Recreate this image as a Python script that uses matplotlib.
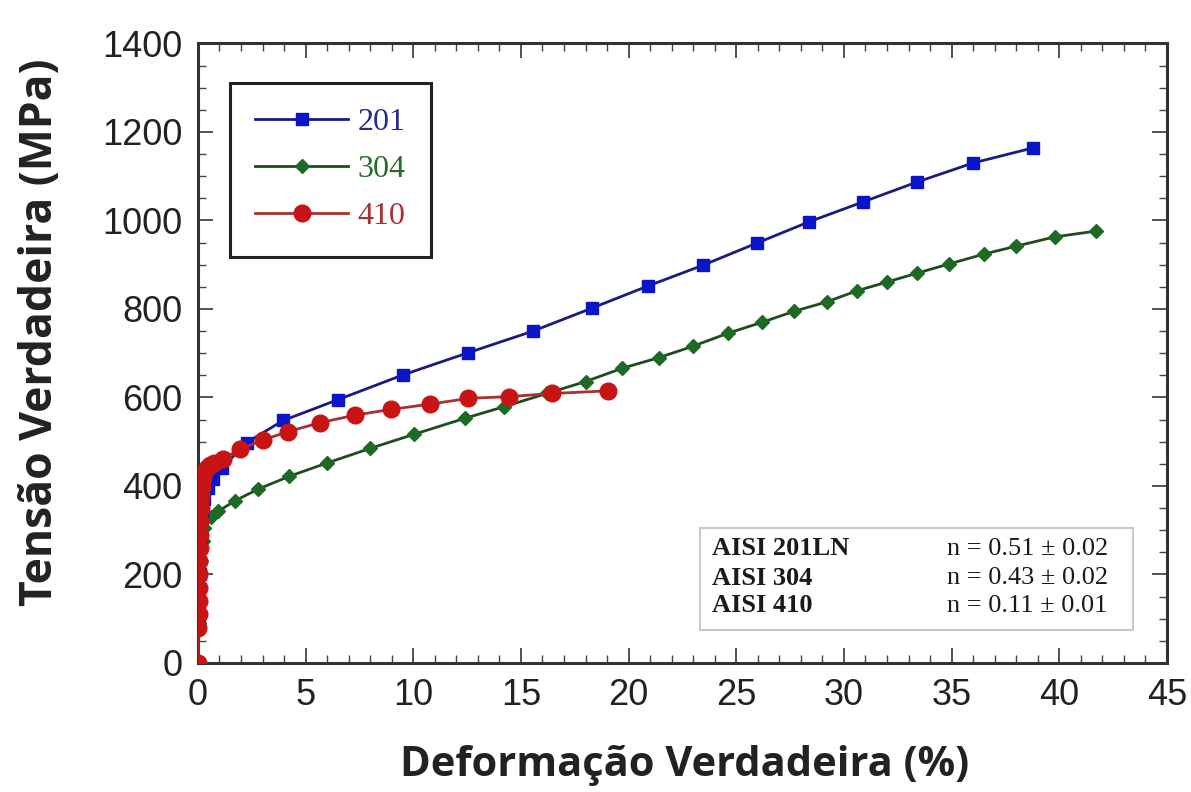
import matplotlib
matplotlib.use("Agg")
import matplotlib.pyplot as plt
from matplotlib.ticker import MultipleLocator

# dados (deformação verdadeira %, tensão verdadeira MPa)
strain_201 = [0, 0.05, 0.1, 0.15, 0.2, 0.3, 0.45, 0.7, 1.1, 2.26, 3.96, 6.5,
              9.52, 12.54, 15.56, 18.3, 20.9, 23.46, 25.96, 28.38, 30.89, 33.4, 36.0, 38.78]
stress_201 = [0, 100, 200, 280, 330, 370, 395, 415, 440, 498, 548, 595,
              651, 701, 750, 802, 852, 899, 949, 997, 1042, 1087, 1130, 1164]

strain_304 = [0, 0.05, 0.1, 0.15, 0.22, 0.3, 0.6, 0.95, 1.7, 2.8, 4.25, 6.0, 8.0, 10.05,
              12.4, 14.2, 16.2, 18.0, 19.7, 21.4, 23.0, 24.6, 26.2, 27.7,
              29.2, 30.6, 32.0, 33.4, 34.9, 36.5, 38.0, 39.8, 41.7]
stress_304 = [0, 90, 170, 230, 275, 305, 331, 343, 366, 393, 422, 452, 485, 517,
              553, 579, 609, 636, 666, 690, 716, 745, 770, 795,
              816, 841, 861, 881, 902, 924, 942, 963, 976]

strain_410 = [0, 0.02, 0.03, 0.04, 0.05, 0.06, 0.07, 0.08, 0.09, 0.1, 0.12, 0.14,
              0.17, 0.2, 0.25, 0.3, 0.4, 0.55, 0.75, 1.18, 1.95, 3.03, 4.19, 5.67,
              7.29, 8.95, 10.78, 12.56, 14.46, 16.43, 19.06]
stress_410 = [0, 78, 110, 140, 170, 200, 230, 260, 290, 320, 350, 375,
              398, 412, 422, 432, 440, 447, 452, 462, 483, 504, 523, 543,
              560, 573, 585, 598, 602, 609, 615]

series_labels = ["201", "304", "410"]
n_materials = ["AISI 201LN", "AISI 304", "AISI 410"]
n_values = ["n = 0.51 ± 0.02", "n = 0.43 ± 0.02", "n = 0.11 ± 0.01"]

fig = plt.figure(figsize=(11.91, 7.92), dpi=100)
ax = fig.add_axes([0.1662, 0.1629, 0.8136, 0.7822])

ax.plot(strain_201, stress_201, color='#1a1a80', lw=2, marker='s', ms=8,
        mfc='#0a14c8', mec='#0a14c8', label=series_labels[0], zorder=3)
ax.plot(strain_304, stress_304, color='#1d4d1d', lw=2, marker='D', ms=7.5,
        mfc='#1e6a24', mec='#1e6a24', label=series_labels[1], zorder=2)
ax.plot(strain_410, stress_410, color='#a83030', lw=2, marker='o', ms=12,
        mfc='#c81414', mec='#c81414', label=series_labels[2], zorder=4)

ax.set_xlim(0, 45)
ax.set_ylim(0, 1400)
ax.xaxis.set_major_locator(MultipleLocator(5))
ax.xaxis.set_minor_locator(MultipleLocator(1))
ax.yaxis.set_major_locator(MultipleLocator(200))
ax.yaxis.set_minor_locator(MultipleLocator(50))

ax.tick_params(which='both', direction='in', top=True, right=True, color='#444444')
ax.tick_params(which='major', length=11, width=1.3, labelsize=26, pad=11,
               labelcolor='#222222')
ax.tick_params(which='minor', length=6, width=1.0)
for lab in ax.get_xticklabels() + ax.get_yticklabels():
    lab.set_family('Liberation Sans')
for sp in ax.spines.values():
    sp.set_linewidth(2.2)
    sp.set_color('#333333')

fig.text(0.034, 0.58, 'Tensão Verdadeira (MPa)', rotation=90, ha='center', va='center',
         fontsize=32, fontweight='bold', family='Open Sans', color='#222222')
fig.text(0.575, 0.034, 'Deformação Verdadeira (%)', ha='center', va='center',
         fontsize=30, fontweight='bold', family='Open Sans', color='#222222')

leg = ax.legend(loc='upper left', bbox_to_anchor=(0.033, 0.937), frameon=True,
                fancybox=False, edgecolor='#222222', framealpha=1,
                prop={'family': 'Liberation Serif', 'size': 23},
                handlelength=2.9, handletextpad=0.3, labelspacing=0.55,
                borderpad=0.8, borderaxespad=0)
leg.get_frame().set_linewidth(2.2)
for txt, c in zip(leg.get_texts(), ['#2a2a8a', '#2a6a2a', '#a83030']):
    txt.set_color(c)

# caixa com os expoentes de encruamento
box = plt.Rectangle((0.518, 0.053), 0.447, 0.165, transform=ax.transAxes,
                    fill=True, facecolor='white', edgecolor='#c8c8c8', lw=1.5, zorder=5)
ax.add_patch(box)
row_y = [0.184, 0.137, 0.092]
for yy, mat, nv in zip(row_y, n_materials, n_values):
    ax.text(0.531, yy, mat, transform=ax.transAxes, ha='left', va='center',
            fontsize=19, fontweight='bold', family='Liberation Serif', zorder=6,
            color='#1a1a1a')
    ax.text(0.773, yy, nv, transform=ax.transAxes, ha='left', va='center',
            fontsize=19, family='Liberation Serif', zorder=6, color='#1a1a1a')

fig.savefig('out.png', dpi=100)
